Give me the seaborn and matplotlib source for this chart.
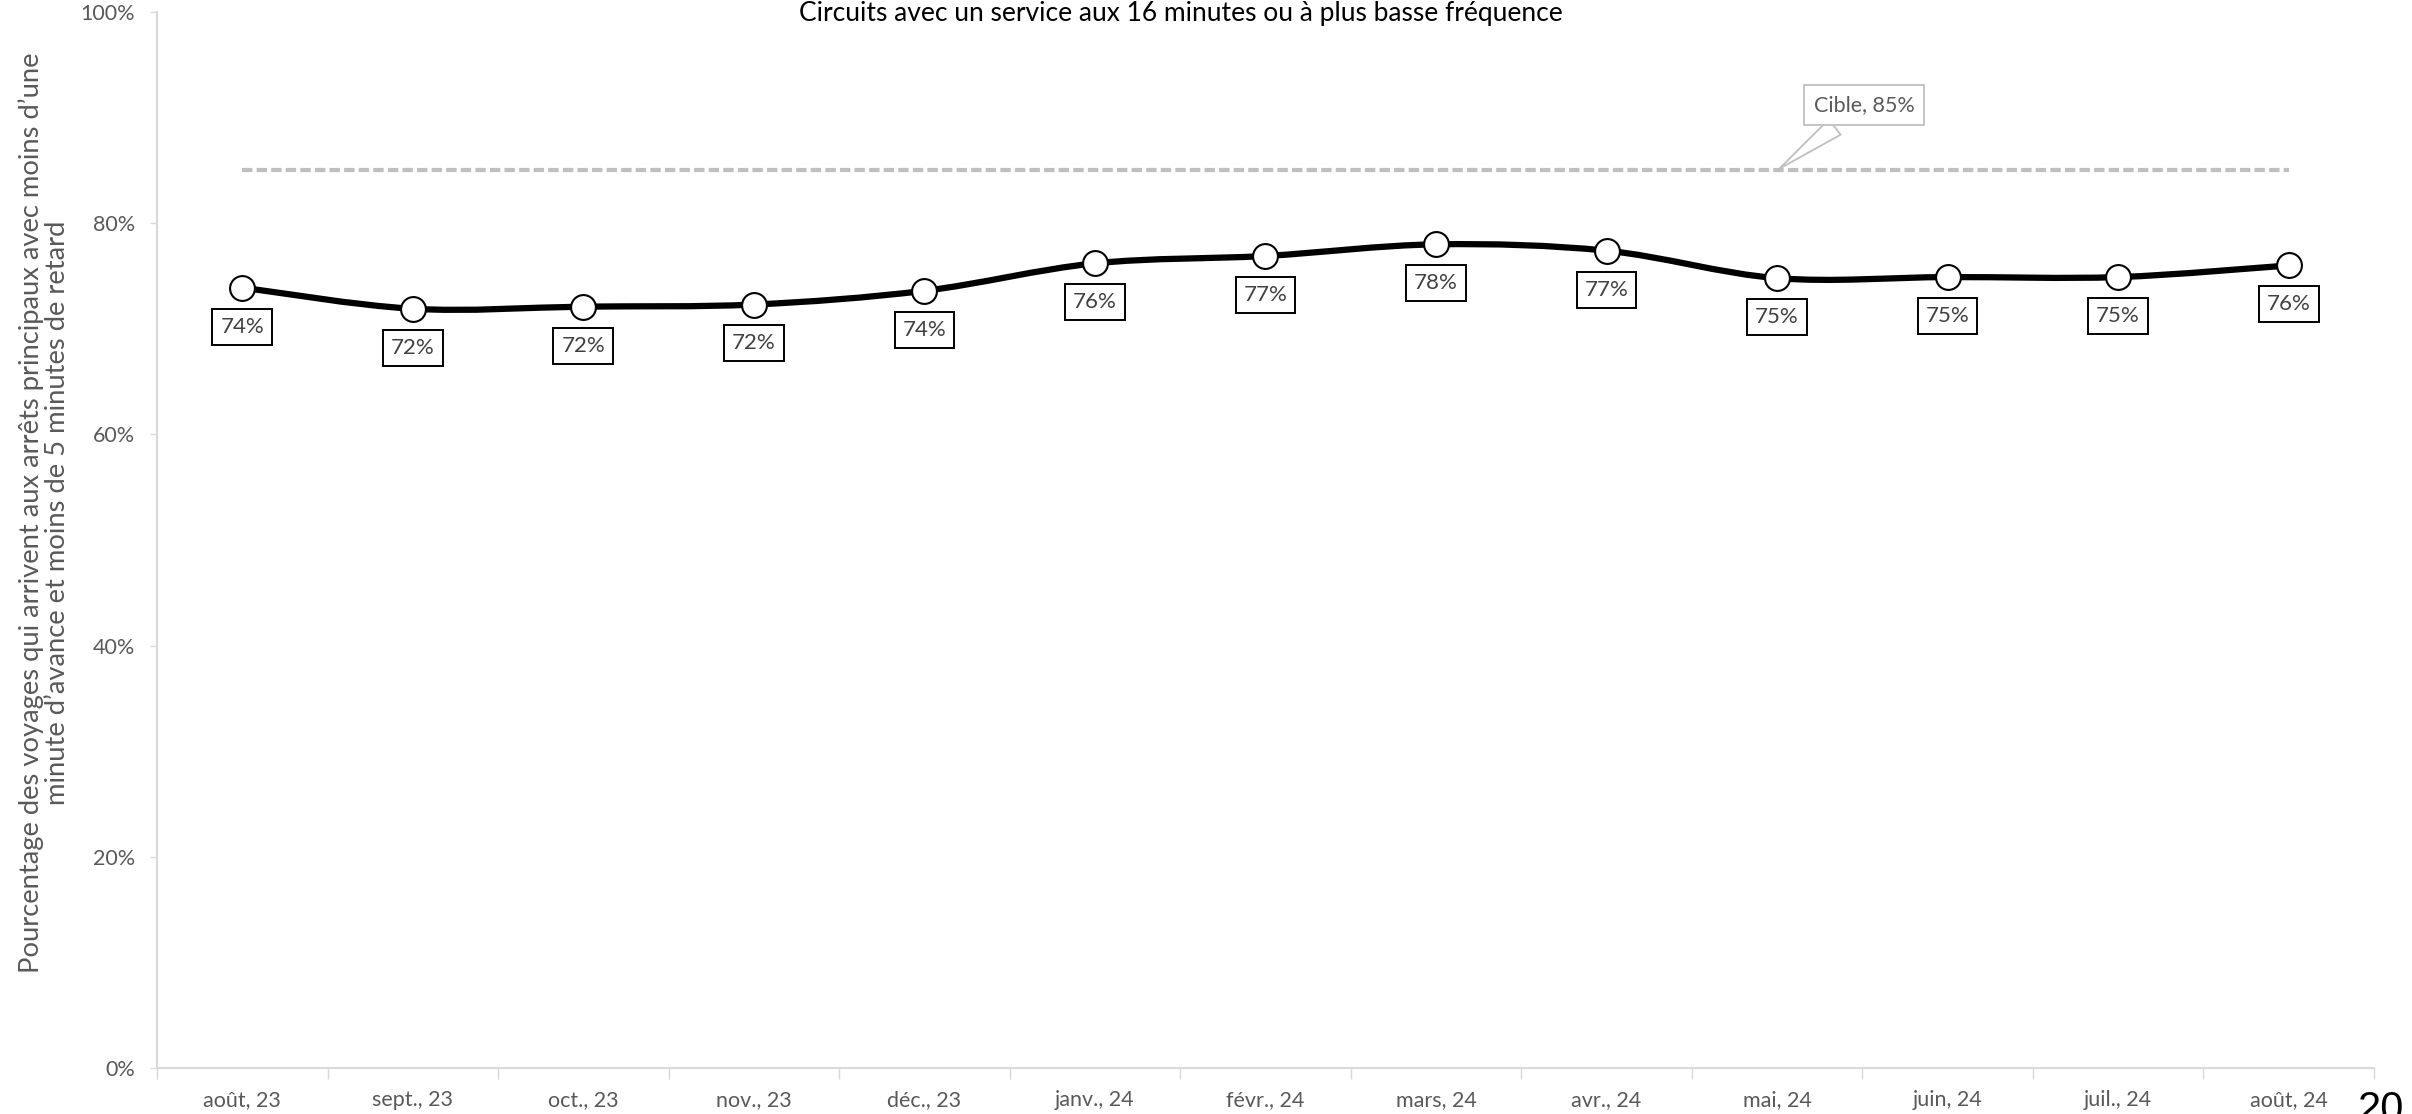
# ===============================
# IMPORTS
# ===============================
import numpy as np
import matplotlib
matplotlib.use('Agg')
import matplotlib.pyplot as plt
from matplotlib.path import Path
from matplotlib.patches import PathPatch
from matplotlib.ticker import PercentFormatter, FixedLocator
import seaborn as sns

# ===============================
# DONNÉES
# ===============================
mois = ['août, 23', 'sept., 23', 'oct., 23', 'nov., 23', 'déc., 23', 'janv., 24',
        'févr., 24', 'mars, 24', 'avr., 24', 'mai, 24', 'juin, 24', 'juil., 24', 'août, 24']
ponctualite = [0.739, 0.719, 0.721, 0.723, 0.736, 0.762, 0.769, 0.780, 0.774,
               0.748, 0.749, 0.749, 0.760]
cible = 0.85
y_ticks = [0, 0.2, 0.4, 0.6, 0.8, 1.0]

titre = 'Circuits avec un service aux 16 minutes ou à plus basse fréquence'
label_y = ('Pourcentage des voyages qui arrivent aux arrêts principaux avec moins d’une\n'
           'minute d’avance et moins de 5 minutes de retard')

# ===============================
# STYLE
# ===============================
sns.set_style('white')
plt.rcParams['font.family'] = ['Lato', 'DejaVu Sans']

gris_txt = '#595959'
gris_axe = '#D9D9D9'

fig = plt.figure(figsize=(24.12, 11.14), dpi=100)
ax = fig.add_axes([0.0651, 0.0413, 0.9191, 0.9479])

x = np.arange(len(mois))
y = np.array(ponctualite)

# ===============================
# LIGNE CIBLE
# ===============================
sns.lineplot(x=x, y=np.full(len(mois), cible), ax=ax, color='#BFBFBF',
             linewidth=3, linestyle=(0, (2.5, 1)), zorder=1)

ax.annotate('Cible, 85%', xy=(9, cible), xytext=(9.51, 0.912),
            ha='center', va='center', fontsize=15.5, color=gris_txt,
            bbox=dict(boxstyle='square,pad=0.45', fc='white', ec='#BFBFBF', lw=1.3),
            arrowprops=dict(arrowstyle='wedge,tail_width=0.9,shrink_factor=0.5',
                            fc='white', ec='#BFBFBF', lw=1.3),
            zorder=2)

# ===============================
# COURBE LISSÉE (Bezier style Excel)
# ===============================
verts = [(x[0], y[0])]
codes = [Path.MOVETO]
for i in range(len(x) - 1):
    p0 = np.array([x[max(i - 1, 0)], y[max(i - 1, 0)]])
    p1 = np.array([x[i], y[i]])
    p2 = np.array([x[i + 1], y[i + 1]])
    p3 = np.array([x[min(i + 2, len(x) - 1)], y[min(i + 2, len(x) - 1)]])
    c1 = p1 + (p2 - p0) / 6
    c2 = p2 - (p3 - p1) / 6
    verts += [tuple(c1), tuple(c2), tuple(p2)]
    codes += [Path.CURVE4] * 3
ax.add_patch(PathPatch(Path(verts, codes), fill=False, ec='black', lw=4.5,
                       capstyle='round', joinstyle='round', zorder=3))

sns.scatterplot(x=x, y=y, ax=ax, s=320, color='white', edgecolor='black',
                linewidth=1.5, zorder=4)

# étiquettes des valeurs
for xi, v in zip(x, ponctualite):
    ax.annotate(f'{v:.0%}', xy=(xi, v), xytext=(0, -28), textcoords='offset points',
                ha='center', va='center', fontsize=16, color='#404040',
                bbox=dict(boxstyle='square,pad=0.36', fc='white', ec='black', lw=1.4),
                zorder=5)

# ===============================
# AXES
# ===============================
ax.set_xlim(-0.5, len(mois) - 0.5)
ax.set_ylim(0, 1)

ax.set_yticks(y_ticks)
ax.yaxis.set_major_formatter(PercentFormatter(1.0, decimals=0))
ax.tick_params(axis='y', length=5, width=1, color=gris_axe, pad=11,
               labelsize=15.5, labelcolor=gris_txt, left=True)

ax.set_xticks(x)
ax.set_xticklabels(mois)
ax.xaxis.set_minor_locator(FixedLocator(np.arange(len(mois) + 1) - 0.5))
ax.tick_params(axis='x', which='major', length=0, pad=16, labelsize=15.5, labelcolor=gris_txt)
ax.tick_params(axis='x', which='minor', length=8, width=1, color=gris_axe, bottom=True)

for s in ['top', 'right']:
    ax.spines[s].set_visible(False)
for s in ['left', 'bottom']:
    ax.spines[s].set_color(gris_axe)
    ax.spines[s].set_linewidth(1.5)

ax.set_xlabel('')
ax.set_ylabel('')

# ===============================
# TEXTES
# ===============================
fig.text(1181 / 2412, 1 - 13 / 1114, titre, ha='center', va='center',
         fontsize=19, color='black')
fig.text(44 / 2412, 0.54, label_y, rotation=90, ha='center', va='center',
         multialignment='center', fontsize=19.7, color=gris_txt, linespacing=1.05)
fig.text(2358 / 2412, 1 - 1090 / 1114, '20', ha='left', va='top',
         fontsize=30, color='black', family=['Liberation Sans', 'DejaVu Sans'])

fig.savefig('out.png', dpi=100)
